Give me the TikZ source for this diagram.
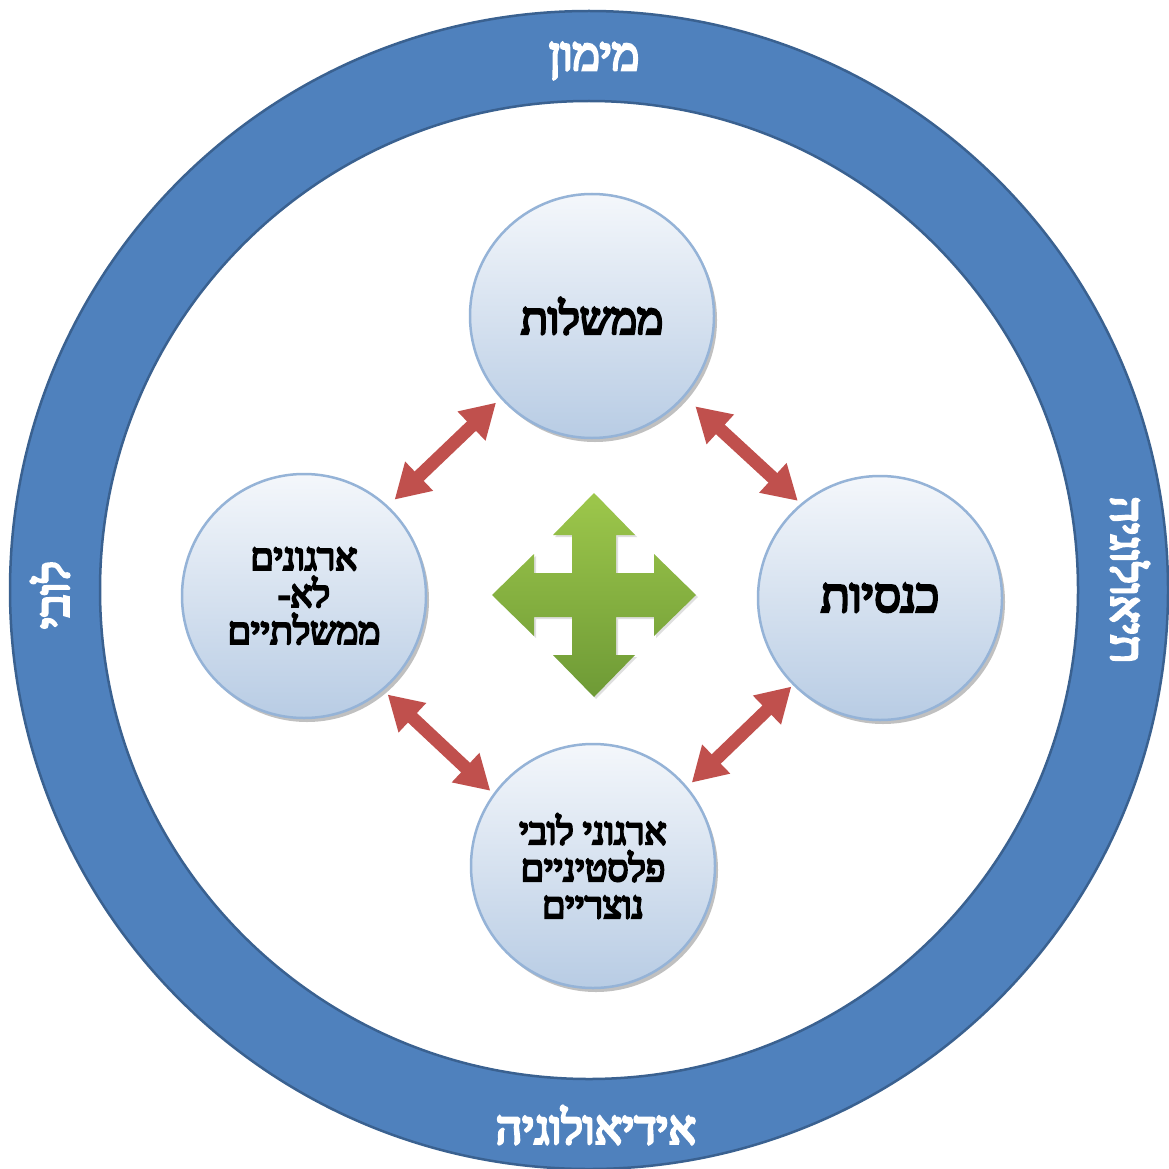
\documentclass[tikz,border=0pt]{standalone}
\usepackage{fontspec}
\usetikzlibrary{arrows.meta,shadows}
\TeXXeTstate=1
\newfontfamily\heb[Script=Hebrew, FakeBold=6]{Liberation Serif}
\definecolor{ringblue}{HTML}{4F81BD}
\definecolor{ringline}{HTML}{3A6190}
\definecolor{bubtop}{HTML}{F4F7FB}
\definecolor{bubbot}{HTML}{B8CCE4}
\definecolor{bubline}{HTML}{95B3D7}
\definecolor{arrred}{HTML}{C0504D}
\definecolor{gtop}{HTML}{9DC74B}
\definecolor{gbot}{HTML}{6E9A36}
\tikzset{
  bubble/.style={circle, minimum size=244pt, inner sep=0pt, draw=bubline, line width=2.5pt,
    top color=bubtop, bottom color=bubbot, align=center, font=\heb,
    drop shadow={shadow xshift=3pt, shadow yshift=-4pt, opacity=0.35, fill=black!70}},
  ringtext/.style={text=white, font=\heb\fontsize{46}{48}\selectfont, inner sep=0pt},
  dbl/.style={draw=arrred, fill=arrred, line width=13pt,
    {Triangle[width=38pt,length=34pt]}-{Triangle[width=38pt,length=34pt]}}
}
\begin{document}
\begin{tikzpicture}[x=1pt,y=-1pt]
\useasboundingbox (0,0) rectangle (1169,1169);
\fill[white] (0,0) rectangle (1169,1169);
% ring
\coordinate (c) at (589,590);
\fill[ringblue, even odd rule] (c) circle (579) (c) circle (489);
\draw[ringline, line width=2.5pt] (c) circle (579);
\draw[ringline, line width=2.5pt] (c) circle (489);
\node[ringtext] (tt) at (594,61) {\beginR מימון\endR};
\node[ringtext] (tb) at (596,1125) {\beginR אידיאולוגיה\endR};
\node[ringtext, rotate=90] (tl) at (50,595) {\beginR לובי\endR};
\node[ringtext, rotate=-90] (tr) at (1130,580) {\beginR תיאולוגיה\endR};
% bubbles
\node[bubble, font=\heb\fontsize{44}{46}\selectfont] (top) at (592,316) {\beginR ממשלות\endR};
\node[bubble, font=\heb\fontsize{47}{49}\selectfont] (right) at (880,598) {\beginR כנסיות\endR};
\node[bubble, font=\heb\fontsize{37}{37}\selectfont] (left) at (304,596)
  {\beginR ארגונים\endR\\\beginR לא-\endR\\\beginR ממשלתיים\endR};
\node[bubble, font=\heb\fontsize{37}{37}\selectfont] (bottom) at (593,866)
  {\beginR ארגוני לובי\endR\\\beginR פלסטיניים\endR\\\beginR נוצריים\endR};
% red arrows
\draw[dbl, shorten <=6pt, shorten >=9pt] (top.222.5) -- (left.47.1);
\draw[dbl, shorten <=14pt, shorten >=4pt] (top.319.4) -- (right.130.2);
\draw[dbl, shorten <=6pt, shorten >=4pt] (left.310) -- (bottom.144);
\draw[dbl, shorten <=2pt, shorten >=6pt] (right.225.6) -- (bottom.40);
% green cross
\begin{scope}[shift={(594,595)}]
\shade[top color=gtop, bottom color=gbot, drop shadow={shadow xshift=2pt, shadow yshift=-2pt, opacity=0.25}]
 (0,-102) -- (41,-60) -- (22,-60) -- (22,-22) -- (60,-22) -- (60,-41) -- (102,0) -- (60,41) -- (60,22) -- (22,22)
 -- (22,60) -- (41,60) -- (0,102) -- (-41,60) -- (-22,60) -- (-22,22) -- (-60,22) -- (-60,41) -- (-102,0)
 -- (-60,-41) -- (-60,-22) -- (-22,-22) -- (-22,-60) -- (-41,-60) -- cycle;
\end{scope}
\end{tikzpicture}
\end{document}
